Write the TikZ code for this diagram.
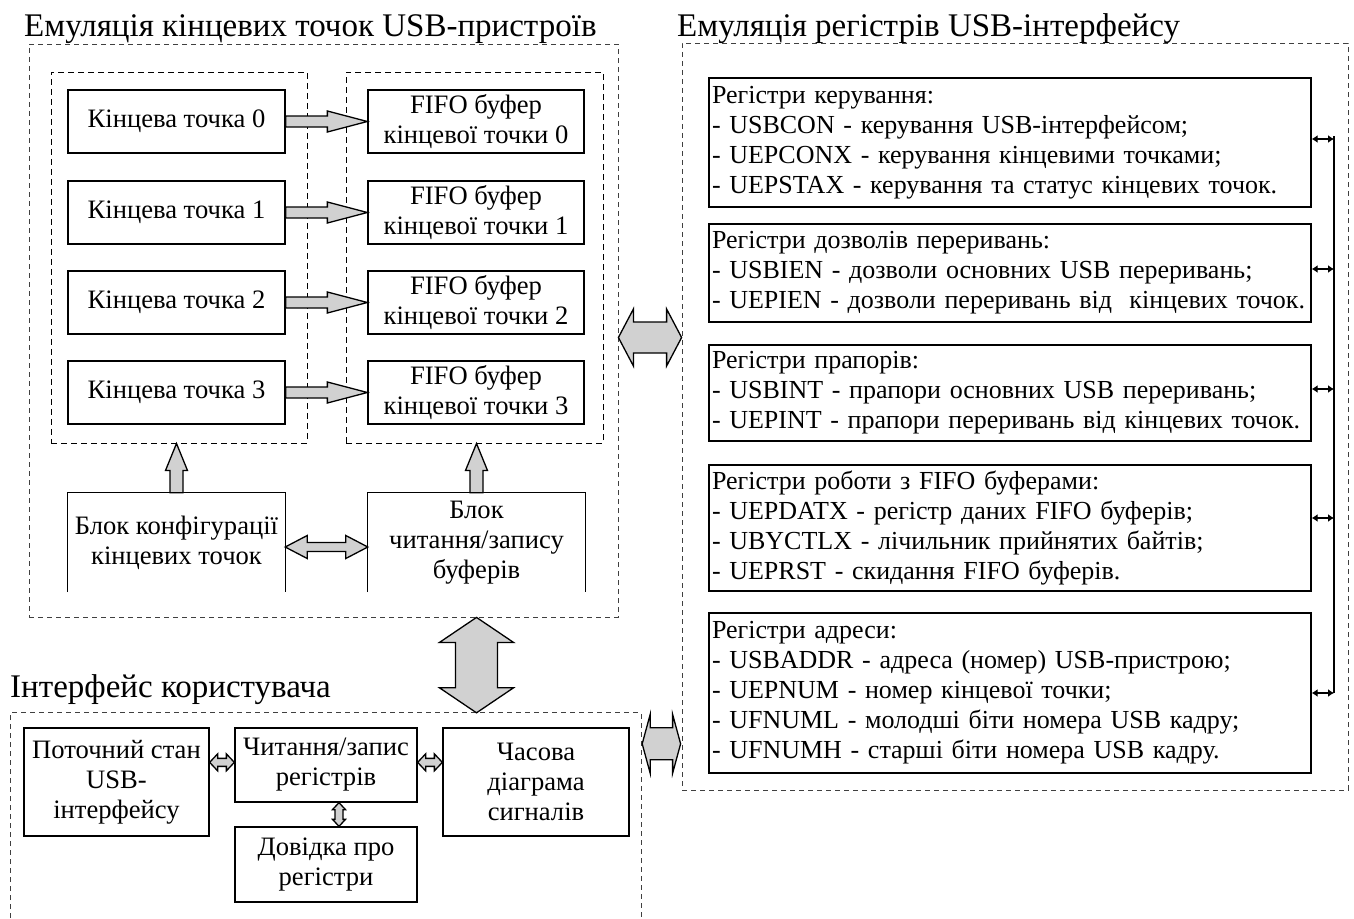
\documentclass[tikz,border=0pt]{standalone}
\usepackage{fontspec}
\setmainfont{Liberation Serif}
\usetikzlibrary{calc,arrows.meta}

% Block arrows drawn as closed outlines between two anchor points.
% #1,#2: end points; #3: half shaft width; #4: half head width; #5: head length
\newcommand{\blockright}[5]{%
  \draw[blockarrow] let \p1=(#1), \p2=(#2) in
    (\x1,\y1+#3) -- (\x2-#5,\y1+#3) -- (\x2-#5,\y1+#4) -- (\x2,\y1)
    -- (\x2-#5,\y1-#4) -- (\x2-#5,\y1-#3) -- (\x1,\y1-#3) -- cycle;}
\newcommand{\blockhboth}[5]{%
  \draw[blockarrow] let \p1=(#1), \p2=(#2) in
    (\x1,\y1) -- (\x1+#5,\y1+#4) -- (\x1+#5,\y1+#3) -- (\x2-#5,\y1+#3)
    -- (\x2-#5,\y1+#4) -- (\x2,\y1) -- (\x2-#5,\y1-#4) -- (\x2-#5,\y1-#3)
    -- (\x1+#5,\y1-#3) -- (\x1+#5,\y1-#4) -- cycle;}
% #1 lower end, #2 upper end (tip)
\newcommand{\blockup}[5]{%
  \draw[blockarrow] let \p1=(#1), \p2=(#2) in
    (\x1-#3,\y1) -- (\x1-#3,\y2-#5) -- (\x1-#4,\y2-#5) -- (\x1,\y2)
    -- (\x1+#4,\y2-#5) -- (\x1+#3,\y2-#5) -- (\x1+#3,\y1) -- cycle;}
% #1 upper end, #2 lower end
\newcommand{\blockvboth}[5]{%
  \draw[blockarrow] let \p1=(#1), \p2=(#2) in
    (\x1,\y1) -- (\x1+#4,\y1-#5) -- (\x1+#3,\y1-#5) -- (\x1+#3,\y2+#5)
    -- (\x1+#4,\y2+#5) -- (\x1,\y2) -- (\x1-#4,\y2+#5) -- (\x1-#3,\y2+#5)
    -- (\x1-#3,\y1-#5) -- (\x1-#4,\y1-#5) -- cycle;}

\tikzset{
  bodyfont/.style={font=\fontsize{26.6}{30}\selectfont},
  regfont/.style={font=\fontsize{26}{30}\selectfont},
  titletext/.style={font=\fontsize{33}{38}\selectfont, inner sep=0pt, anchor=base west},
  box/.style={draw, line width=1.3pt, inner sep=0pt, align=center, bodyfont},
  openbox/.style={inner sep=0pt, align=center, bodyfont},
  regbox/.style={draw, line width=1.3pt, inner xsep=3pt, inner ysep=0pt,
    text width=596pt, align=left, regfont},
  outer/.style={draw=black!75, line width=0.8pt, dash pattern=on 5pt off 4pt, inner sep=0pt},
  inner/.style={draw=black, line width=1pt, dash pattern=on 6pt off 4pt, inner sep=0pt},
  blockarrow/.style={draw=black, line width=1.3pt, fill=black!18, line join=miter},
  bus/.style={line width=2.6pt},
  busarrow/.style={line width=2pt, {Latex[length=6pt,width=8pt]}-{Latex[length=6pt,width=8pt]}},
}

\begin{document}
\begin{tikzpicture}[x=1pt,y=-1pt]
\useasboundingbox (0,0) rectangle (1354,918);
\fill[white] (0,0) rectangle (1354,918);

% ---------- endpoint emulation ----------
\node[titletext] (t1) at (24,36) {Емуляція кінцевих точок USB-пристроїв};
\node[outer, minimum width=589pt, minimum height=573pt] (A) at (323.5,330.5) {};
\node[inner, minimum width=256pt, minimum height=371pt] (epg) at (179,257.5) {};
\node[inner, minimum width=257pt, minimum height=371pt] (fg) at (474.5,257.5) {};

\foreach \i/\y in {0/121.5,1/212.5,2/302.5,3/392.5}{
  \node[box, minimum width=217pt, minimum height=63pt] (e\i) at (176.5,\y) {Кінцева точка \i};
  \node[box, minimum width=216pt, minimum height=63pt] (f\i) at (476,\y) {FIFO буфер\\кінцевої точки \i};
  \blockright{e\i.east}{f\i.west}{5.5pt}{10.5pt}{40pt}
}

\node[openbox, minimum width=217pt, minimum height=99pt] (c1) at (176.5,542.5)
  {Блок конфігурації\\кінцевих точок};
\node[openbox, minimum width=217pt, minimum height=99pt] (c2) at (476.5,542.5)
  {Блок\\читання/запису\\буферів};
\draw[line width=1.3pt] (c1.south west) -- (c1.north west) -- (c1.north east) -- (c1.south east);
\draw[line width=1.3pt] (c2.south west) -- (c2.north west) -- (c2.north east) -- (c2.south east);

\blockup{c1.north}{c1.north |- epg.south}{6.5pt}{11pt}{27pt}
\blockup{c2.north}{c2.north |- fg.south}{6.5pt}{11pt}{27pt}
\blockhboth{$(c1.east)+(0,4.5)$}{$(c2.west)+(0,4.5)$}{4.5pt}{11.5pt}{22pt}

% ---------- user interface ----------
\node[titletext] (t3) at (10,697) {Інтерфейс користувача};
\node[minimum width=630pt, minimum height=205pt, inner sep=0pt] (UI) at (326,815.5) {};
\draw[outer] (UI.south west) -- (UI.north west) -- (UI.north east) -- (UI.south east);

\node[box, minimum width=185pt, minimum height=108pt] (u1) at (116.5,782) {Поточний стан\\USB-\\інтерфейсу};
\node[box, minimum width=182pt, minimum height=74pt] (u2) at (326,765) {Читання/запис\\регістрів};
\node[box, minimum width=186pt, minimum height=108pt] (u3) at (536,782) {Часова\\діаграма\\сигналів};
\node[box, minimum width=182pt, minimum height=75pt] (u4) at (326,864.5) {Довідка про\\регістри};

\blockhboth{$(u1.north east)+(0,35)$}{$(u2.north west)+(0,35)$}{4pt}{8.5pt}{8pt}
\blockhboth{$(u2.north east)+(0,35)$}{$(u3.north west)+(0,35)$}{4pt}{8.5pt}{8pt}
\blockvboth{$(u2.south)+(13,0)$}{$(u4.north)+(13,0)$}{4pt}{6.5pt}{7pt}

\blockvboth{c2.south |- A.south}{c2.south |- UI.north}{21pt}{37pt}{25pt}

% ---------- register emulation ----------
\node[titletext] (t2) at (677,36) {Емуляція регістрів USB-інтерфейсу};
\node[outer, minimum width=666pt, minimum height=747pt] (R) at (1015,416.5) {};

\node[regbox, minimum height=129pt] (r1) at (1010,142.5) {Регістри керування:\\
- USBCON - керування USB-інтерфейсом;\\
- UEPCONX - керування кінцевими точками;\\
- UEPSTAX - керування та статус кінцевих точок.};
\node[regbox, minimum height=98pt] (r2) at (1010,273) {Регістри дозволів переривань:\\
- USBIEN - дозволи основних USB переривань;\\
- UEPIEN - дозволи переривань від~ кінцевих точок.};
\node[regbox, minimum height=96pt] (r3) at (1010,393) {Регістри прапорів:\\
- USBINT - прапори основних USB переривань;\\
- UEPINT - прапори переривань від кінцевих точок.};
\node[regbox, minimum height=126pt] (r4) at (1010,528) {Регістри роботи з FIFO буферами:\\
- UEPDATX - регістр даних FIFO буферів;\\
- UBYCTLX - лічильник прийнятих байтів;\\
- UEPRST - скидання FIFO буферів.};
\node[regbox, minimum height=160pt] (r5) at (1010,693) {Регістри адреси:\\
- USBADDR - адреса (номер) USB-пристрою;\\
- UEPNUM - номер кінцевої точки;\\
- UFNUML - молодші біти номера USB кадру;\\
- UFNUMH - старші біти номера USB кадру.};

% register bus
\coordinate (bustop) at (1334,136);
\coordinate (k1) at (1334,139);
\coordinate (k2) at (1334,269);
\coordinate (k3) at (1334,389);
\coordinate (k4) at (1334,518);
\coordinate (k5) at (1334,693);
\draw[bus] (bustop) -- (k5);
\foreach \k/\r in {k1/r1,k2/r2,k3/r3,k4/r4,k5/r5}{
  \draw[busarrow] (\k -| \r.east) -- (\k);
}

% links between the groups
\blockhboth{$(A.east)+(0,7)$}{$(R.west |- A.east)+(0,7)$}{15.5pt}{28.5pt}{15pt}
\blockhboth{$(UI.north east)+(1,31)$}{$(R.west |- UI.north east)+(-1,31)$}{16pt}{29.5pt}{8pt}
\end{tikzpicture}
\end{document}
